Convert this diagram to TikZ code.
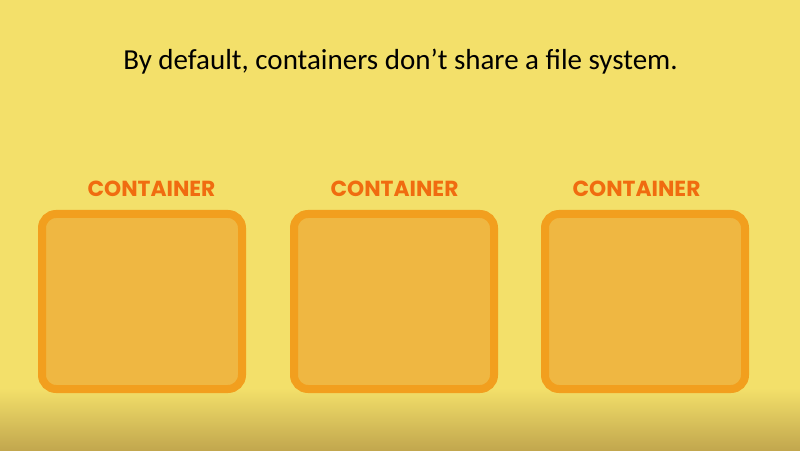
\documentclass[tikz,border=0pt]{standalone}
\usepackage{fontspec}
\setmainfont{Carlito}
\newfontfamily\popfont{Poppins}
\definecolor{bgc}{HTML}{F3E06A}
\definecolor{bgdark}{HTML}{C2A74E}
\definecolor{boxline}{HTML}{F29F1E}
\definecolor{boxfill}{HTML}{EFB742}
\definecolor{labc}{HTML}{F06C10}
\begin{document}
\begin{tikzpicture}[x=1pt,y=1pt,
  cbox/.style={draw=boxline,fill=boxfill,line width=8pt,rounded corners=14pt},
  clabel/.style={font=\popfont\bfseries\fontsize{21.8}{24}\selectfont,text=labc,anchor=base}]
\fill[bgc] (0,0) rectangle (800,450);
\shade[top color=bgc,bottom color=bgdark] (0,0) rectangle (800,62);
\node[font=\fontsize{29}{34}\selectfont,anchor=base] (title) at (400.5,380) {By default, containers don’t share a file system.};
\foreach \i/\x/\lx in {1/38/151.5,2/290/394.5,3/541/636.5}{
  \draw[cbox] (\x+4,57+4) rectangle (\x+208-4,240-4);
  \node[clabel] (lab\i) at (\lx,253) {CONTAINER};
}
\end{tikzpicture}
\end{document}
